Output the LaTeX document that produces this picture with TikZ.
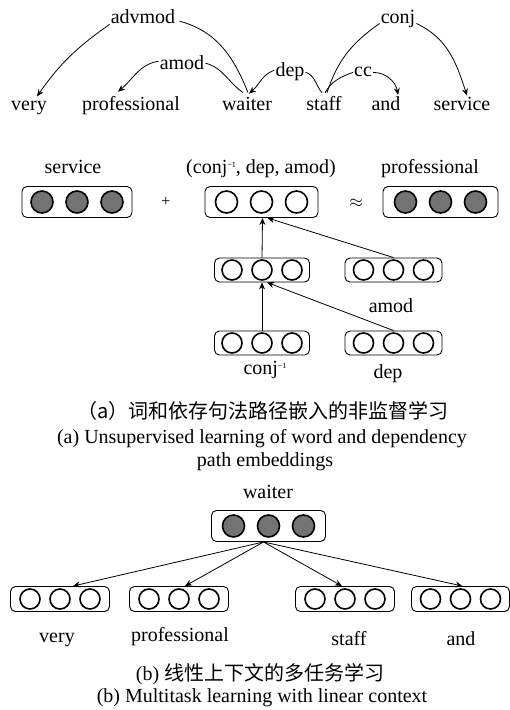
\documentclass[tikz,border=0pt]{standalone}
\usepackage{fontspec}
\setmainfont{Liberation Serif}
\newfontfamily\cjk{Noto Sans CJK SC}
\usetikzlibrary{arrows.meta,calc}

\tikzset{
  word/.style={font=\fontsize{20}{24}\selectfont, inner sep=1pt, anchor=base},
  arr/.style={-{Stealth[length=7pt,width=6pt]}, line width=0.8pt},
  link/.style={line width=0.8pt},
  vbox/.style={draw, rounded corners=5pt, line width=0.9pt, inner sep=0pt},
  unit/.style={circle, draw, line width=1.6pt, inner sep=0pt},
  caption/.style={font=\fontsize{20}{24}\selectfont, inner sep=0pt, anchor=base},
  opsign/.style={font=\fontsize{16}{18}\selectfont, inner sep=0pt},
}
\colorlet{unitfill}{black!55}

% small raised "-1" for inverse relations
\newcommand\invrel{\raisebox{6pt}{\fontsize{8}{8}\selectfont −1}}

% embedding vector: name, x, y, width, height, unit spacing, unit size, fill
\newcommand\vecbox[8]{%
  \node[vbox, minimum width=#4pt, minimum height=#5pt] (#1) at (#2,#3) {};
  \foreach \k in {-1,0,1}
    \node[unit, minimum size=#7pt, fill=#8] at ($(#1.center)+(\k*#6,0)$) {};
}

\begin{document}
\begin{tikzpicture}[x=1pt,y=-1pt]
\useasboundingbox (0,0) rectangle (510,710);

% ---------- dependency parse ----------
\node[word] (very)  at (29,110)  {very};
\node[word] (prof)  at (131,110) {professional};
\node[word] (waiter) at (247,110) {waiter};
\node[word] (staff) at (324,110) {staff};
\node[word] (and)   at (386,110) {and};
\node[word] (serv)  at (462,110) {service};

\node[word] (advmod) at (143,23) {advmod};
\node[word] (conj)   at (398,23) {conj};
\node[word] (amod)   at (182,69) {amod};
\node[word] (dep)    at (290,76) {dep};
\node[word] (cc)     at (363,76) {cc};

% advmod: waiter -> very
\draw[arr] (advmod.south west) to[out=215,in=55] ([xshift=8pt,yshift=3pt]very.north);
\draw[link] ([xshift=3pt,yshift=-5pt]advmod.east) to[out=-15,in=112] ([xshift=1pt,yshift=3pt]waiter.north);
% amod: waiter -> professional
\draw[link] ([xshift=-4pt,yshift=3pt]waiter.north) to[out=145,in=-15] ([yshift=-1pt]amod.east);
\draw[arr] ([yshift=1pt]amod.west) to[out=190,in=40] ([xshift=-13pt,yshift=3pt]prof.north);
% dep: staff -> waiter
\draw[link] ([xshift=-2pt,yshift=2pt]staff.north) to[out=130,in=-20] ([yshift=-1pt]dep.east);
\draw[arr] ([yshift=1pt]dep.west) to[out=200,in=40] ([xshift=2pt,yshift=2pt]waiter.north);
% cc: staff -> and
\draw[link] ([xshift=1pt,yshift=2pt]staff.north) to[out=60,in=200] ([yshift=-1pt]cc.west);
\draw[arr] ([yshift=-1pt]cc.east) to[out=0,in=100] ([xshift=12pt,yshift=0pt]and.north);
% conj: staff -> service
\draw[link] ([xshift=3pt,yshift=2pt]staff.north) to[out=72,in=215] ([yshift=-5pt]conj.west);
\draw[arr] ([yshift=-5pt]conj.east) to[out=-25,in=108] ([xshift=5pt,yshift=0pt]serv.north);

% ---------- (a) word and path embeddings ----------
\node[word] (lserv) at (73,173)  {service};
\node[word] (lpath) at (261,173) {(conj\invrel, dep, amod)};
\node[word] (lprof) at (430,173) {professional};

\vecbox{vserv}{77}{202}{110}{31}{35}{22}{unitfill}
\vecbox{vpath}{261.5}{202}{113}{31}{35}{22}{white}
\vecbox{vprof}{440.5}{202}{115}{31}{35}{22}{unitfill}
\node[opsign] (plus) at (166,202) {+};
\node[opsign] (approx) at (356,203) {$\approx$};

\vecbox{vmid}{262}{270}{95}{24}{30}{20}{white}
\vecbox{vamod}{393.5}{270}{97}{24}{30}{20}{white}
\vecbox{vconj}{262}{343}{95}{24}{30}{20}{white}
\vecbox{vdep}{393.5}{343}{97}{24}{30}{20}{white}

\node[word] (lamod) at (391,312) {amod};
\node[word] (lconj) at (265,374) {conj\invrel};
\node[word] (ldep)  at (388,378) {dep};

\draw[arr] (vconj.north) -- (vmid.south);
\draw[arr] (vdep.north) -- ([xshift=5pt]vmid.south);
\draw[arr] (vmid.north) -- ([xshift=1pt]vpath.south);
\draw[arr] (vamod.north) -- ([xshift=6pt]vpath.south);

\node[caption] (capa1) at (263,418) {\cjk （a）词和依存句法路径嵌入的非监督学习};
\node[caption] (capa2) at (262,443) {(a) Unsupervised learning of word and dependency};
\node[caption] (capa3) at (265,466) {path embeddings};

% ---------- (b) multitask learning ----------
\node[word] (lwait) at (268,498) {waiter};
\vecbox{vwait}{268.5}{526}{114}{31}{35}{22}{unitfill}

\vecbox{vvery}{60}{599}{99}{25}{30}{20}{white}
\vecbox{vprof2}{179}{599}{99}{25}{30}{20}{white}
\vecbox{vstaff}{345}{599}{99}{25}{30}{20}{white}
\vecbox{vand}{460.5}{599}{98}{25}{30}{20}{white}

\draw[arr] ([xshift=-5pt]vwait.south) -- ([xshift=13pt]vvery.north);
\draw[arr] ([xshift=-5pt]vwait.south) -- ([xshift=6pt]vprof2.north);
\draw[arr] ([xshift=-5pt]vwait.south) -- ([xshift=-3pt]vstaff.north);
\draw[arr] ([xshift=-5pt]vwait.south) -- ([xshift=2pt]vand.north);

\node[word] (lvery)  at (57,642)  {very};
\node[word] (lprof2) at (180,641) {professional};
\node[word] (lstaff) at (349,645) {staff};
\node[word] (land)   at (461,645) {and};

\node[caption] (capb1) at (260,680) {(b) {\cjk 线性上下文的多任务学习}};
\node[caption] (capb2) at (262,702) {(b) Multitask learning with linear context};
\end{tikzpicture}
\end{document}
